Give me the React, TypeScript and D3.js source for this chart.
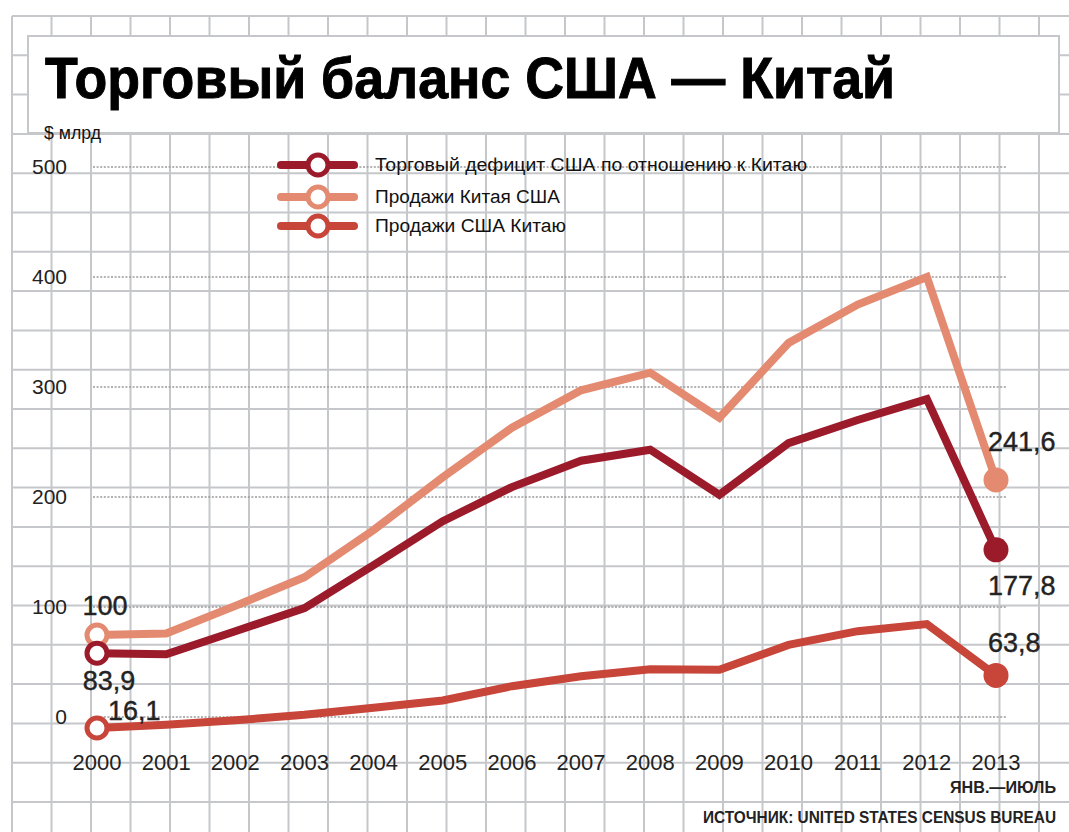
import React, { useRef, useEffect } from "react";
import * as d3 from "d3";

// values as they are plotted against the axis
const years = [2000, 2001, 2002, 2003, 2004, 2005, 2006, 2007, 2008, 2009, 2010, 2011, 2012, 2013];
const deficit = [58, 57, 78, 99, 138, 178, 209, 233, 243, 202, 249, 270, 289, 152];
const chinaSales = [74.5, 76, 101, 127, 170, 218, 263, 297, 313, 272, 340, 375, 400, 215.5];
const usSales = [-10, -7, -3, 2, 8.5, 15, 28, 37, 43.5, 43, 65.5, 78, 84.5, 37.8];
const yTicks = [0, 100, 200, 300, 400, 500];
const legendNames = [
  "Торговый дефицит США по отношению к Китаю",
  "Продажи Китая США",
  "Продажи США Китаю",
];
const startLabels = ["83,9", "100", "16,1"];
const endLabels = ["177,8", "241,6", "63,8"];

const W = 1069;
const H = 832;
const colors = ["#9b1b2b", "#e38a70", "#c8453a"];

const App = () => {
  const canvas = useRef<SVGSVGElement>(null);

  useEffect(() => {
    const svg = d3.select(canvas.current);
    svg.selectAll("*").remove();

    const xScale = d3.scaleLinear().domain([2000, 2013]).range([97, 996]);
    const yScale = d3.scaleLinear().domain([0, 500]).range([717, 167]);

    // graph paper
    const paper = svg.append("g").attr("stroke", "#c6c7ca").attr("stroke-width", 2);
    for (let x = 12; x < W; x += 39.5) {
      paper.append("line").attr("x1", x).attr("x2", x).attr("y1", 16).attr("y2", H);
    }
    for (let y = 16; y < H; y += 39.3) {
      paper.append("line").attr("x1", 12).attr("x2", W).attr("y1", y).attr("y2", y);
    }

    // title box
    svg.append("rect")
      .attr("x", 28).attr("y", 36).attr("width", 1031).attr("height", 97)
      .attr("fill", "#fff").attr("stroke", "#c6c7ca").attr("stroke-width", 2);
    svg.append("text")
      .attr("x", 45).attr("y", 98)
      .attr("font-family", "Liberation Sans, Arial, sans-serif")
      .attr("font-weight", "bold").attr("font-size", 58)
      .attr("stroke", "#000").attr("stroke-width", 1)
      .attr("textLength", 850).attr("lengthAdjust", "spacingAndGlyphs")
      .attr("fill", "#000")
      .text("Торговый баланс США — Китай");
    svg.append("text")
      .attr("x", 44).attr("y", 139)
      .attr("font-family", "Liberation Sans Narrow, Liberation Sans, sans-serif")
      .attr("font-size", 18).attr("fill", "#111")
      .attr("textLength", 57).attr("lengthAdjust", "spacingAndGlyphs")
      .text("$ млрд");

    // dotted value lines + tick labels
    const yAxis = svg.append("g");
    yAxis.selectAll("line").data(yTicks).enter().append("line")
      .attr("x1", 93).attr("x2", 1007)
      .attr("y1", (d: number) => yScale(d)).attr("y2", (d: number) => yScale(d))
      .attr("stroke", "#9a9a9a").attr("stroke-width", 1.6).attr("stroke-dasharray", "2,1.6");
    yAxis.selectAll("text").data(yTicks).enter().append("text")
      .attr("x", 67).attr("y", (d: number) => yScale(d) + 7)
      .attr("text-anchor", "end")
      .attr("font-family", "Liberation Sans, Arial, sans-serif")
      .attr("font-size", 21).attr("fill", "#222")
      .text((d: number) => d);

    // year labels
    svg.append("g").selectAll("text").data(years).enter().append("text")
      .attr("x", (d: number) => xScale(d)).attr("y", 770)
      .attr("text-anchor", "middle")
      .attr("font-family", "Liberation Sans, Arial, sans-serif")
      .attr("font-size", 22).attr("fill", "#222")
      .text((d: number) => d);
    svg.append("text")
      .attr("x", 950).attr("y", 793)
      .attr("font-family", "Liberation Sans Narrow, Liberation Sans, sans-serif")
      .attr("font-weight", "bold").attr("font-size", 16).attr("fill", "#222")
      .attr("textLength", 106).attr("lengthAdjust", "spacingAndGlyphs")
      .text("ЯНВ.—ИЮЛЬ");
    svg.append("text")
      .attr("x", 703).attr("y", 823)
      .attr("font-family", "Liberation Sans Narrow, Liberation Sans, sans-serif")
      .attr("font-weight", "bold").attr("font-size", 16).attr("fill", "#222")
      .attr("textLength", 353).attr("lengthAdjust", "spacingAndGlyphs")
      .text("ИСТОЧНИК: UNITED STATES CENSUS BUREAU");

    // legend
    const legendY = [165, 197, 226];
    const legendLen = [432, 185, 191];
    legendNames.forEach((name, i) => {
      const g = svg.append("g").attr("transform", "translate(0," + legendY[i] + ")");
      g.append("line").attr("x1", 281).attr("x2", 354).attr("y1", 0).attr("y2", 0)
        .attr("stroke", colors[i]).attr("stroke-width", 8).attr("stroke-linecap", "round");
      g.append("circle").attr("cx", 318).attr("cy", 0).attr("r", 10)
        .attr("fill", "#fff").attr("stroke", colors[i]).attr("stroke-width", 5);
      g.append("text").attr("x", 375).attr("y", 6)
        .attr("font-family", "Liberation Sans Narrow, Liberation Sans, sans-serif")
        .attr("font-size", 18).attr("fill", "#111")
        .attr("textLength", legendLen[i]).attr("lengthAdjust", "spacingAndGlyphs")
        .text(name);
    });

    // lines
    const series = [deficit, chinaSales, usSales];
    const line = d3.line<number>()
      .x((_d: number, i: number) => xScale(years[i]))
      .y((d: number) => yScale(d));
    // draw in order: exports, china sales, deficit
    [2, 1, 0].forEach((s) => {
      const data = series[s];
      svg.append("path").datum(data)
        .attr("d", line)
        .attr("fill", "none").attr("stroke", colors[s]).attr("stroke-width", 8)
        .attr("stroke-linejoin", "miter").attr("stroke-miterlimit", 10);
      svg.append("circle")
        .attr("cx", xScale(years[0])).attr("cy", yScale(data[0])).attr("r", 10)
        .attr("fill", "#fff").attr("stroke", colors[s]).attr("stroke-width", 5);
      svg.append("circle")
        .attr("cx", xScale(years[years.length - 1])).attr("cy", yScale(data[data.length - 1])).attr("r", 12.5)
        .attr("fill", colors[s]);
    });

    // value labels
    const labelFont = (t: any) => t
      .attr("font-family", "Liberation Sans, Arial, sans-serif")
      .attr("font-size", 27).attr("fill", "#222")
      .attr("stroke", "#222").attr("stroke-width", 0.4);
    const x0 = xScale(years[0]);
    const x1 = xScale(years[years.length - 1]);
    svg.append("text").call(labelFont)
      .attr("x", x0 + 12).attr("y", yScale(deficit[0]) + 37).attr("text-anchor", "middle")
      .text(startLabels[0]);
    svg.append("text").call(labelFont)
      .attr("x", x0 + 8).attr("y", yScale(chinaSales[0]) - 20).attr("text-anchor", "middle")
      .text(startLabels[1]);
    svg.append("text").call(labelFont)
      .attr("x", x0 + 11).attr("y", yScale(usSales[0]) - 8)
      .text(startLabels[2]);
    svg.append("text").call(labelFont)
      .attr("x", x1 - 8).attr("y", yScale(deficit[13]) + 45)
      .text(endLabels[0]);
    svg.append("text").call(labelFont)
      .attr("x", x1 - 8).attr("y", yScale(chinaSales[13]) - 29)
      .text(endLabels[1]);
    svg.append("text").call(labelFont)
      .attr("x", x1 - 8).attr("y", yScale(usSales[13]) - 23)
      .text(endLabels[2]);
  });

  return (
    <svg ref={canvas} width={W} height={H}
      style={{ position: "absolute", left: 0, top: 0, display: "block", background: "#fff" }} />
  );
};

export default App;
